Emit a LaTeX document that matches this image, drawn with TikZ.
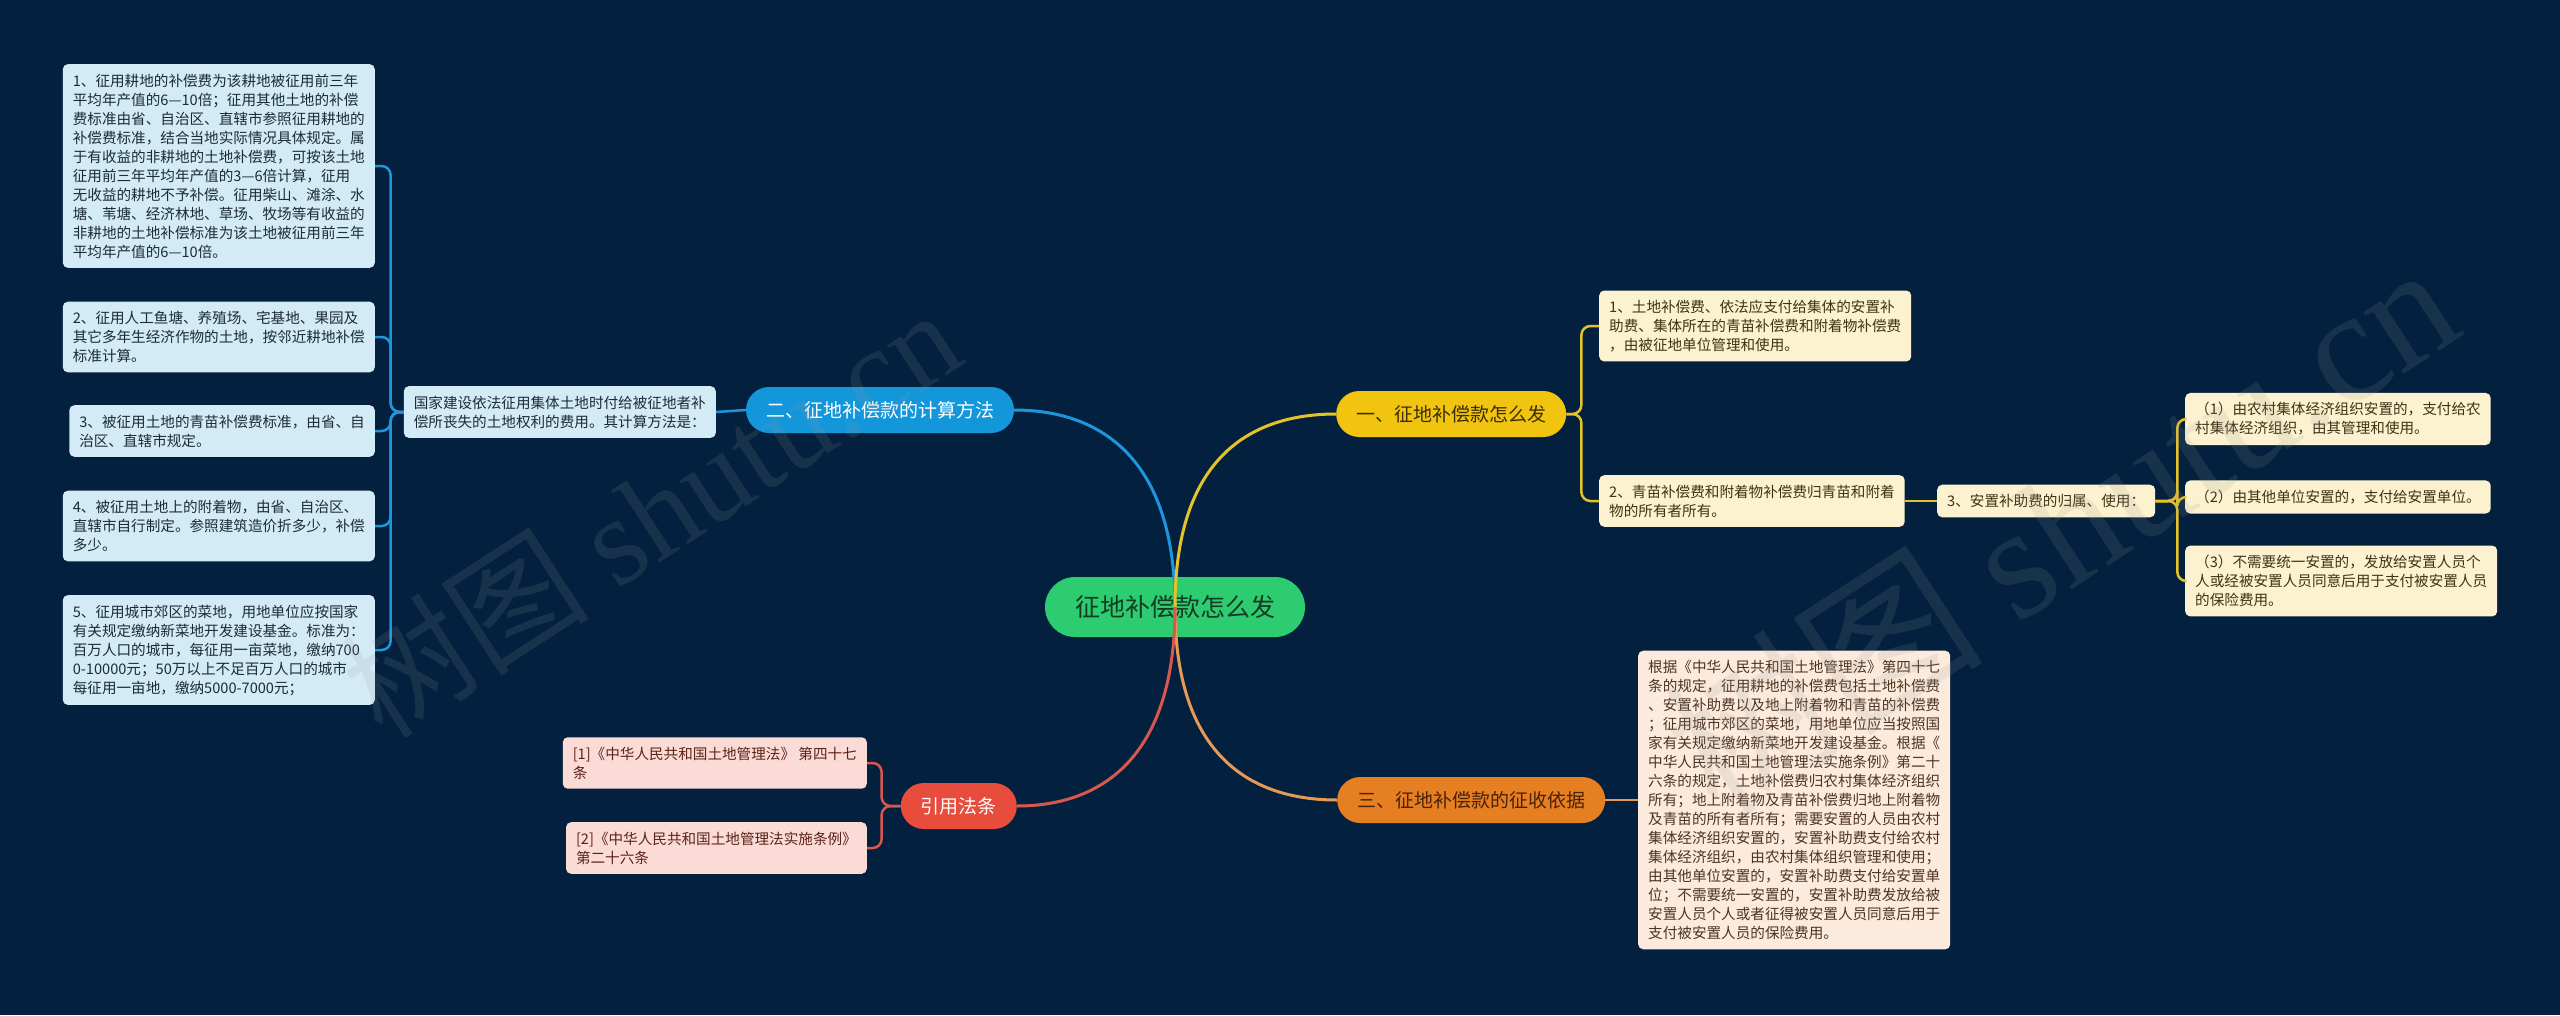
\documentclass[tikz,border=0pt]{standalone}
\usepackage{fontspec}
\setmainfont{Noto Sans CJK SC}
\newfontfamily\wmserif{Liberation Serif}
\usepackage{tikz}
\usetikzlibrary{positioning}

\definecolor{bgnavy}{HTML}{03213F}
\definecolor{rootfill}{HTML}{2ECC71}
\definecolor{roottext}{HTML}{123D22}
\definecolor{bluefill}{HTML}{1396DA}
\definecolor{blueline}{HTML}{1E96DC}
\definecolor{blueleaf}{HTML}{D3EAF7}
\definecolor{bluetext}{HTML}{1C2B3A}
\definecolor{yelfill}{HTML}{F1C40F}
\definecolor{yelline}{HTML}{E6C229}
\definecolor{yelleaf}{HTML}{FCF2CF}
\definecolor{yeltext}{HTML}{3D3418}
\definecolor{yeltopic}{HTML}{3A2E05}
\definecolor{orgfill}{HTML}{E67E22}
\definecolor{orgline}{HTML}{E59A55}
\definecolor{orgleaf}{HTML}{FCEBDD}
\definecolor{orgtext}{HTML}{4E3320}
\definecolor{orgtopic}{HTML}{4A2206}
\definecolor{redfill}{HTML}{E74C3C}
\definecolor{redline}{HTML}{D9584E}
\definecolor{redleaf}{HTML}{FADBD6}
\definecolor{redtext}{HTML}{5C2218}

\begin{document}
\begin{tikzpicture}[x=1pt, y=-1pt,
  root/.style ={fill=rootfill, text=roottext, rounded corners=30pt, minimum height=60pt,
                inner xsep=30pt, inner ysep=0pt, font=\fontsize{25}{30}\selectfont},
  topic/.style={rounded corners=23pt, minimum height=46pt, inner xsep=20pt, inner ysep=0pt,
                font=\fontsize{19}{23}\selectfont},
  leaf/.style ={rounded corners=5pt, align=left, inner xsep=10pt, inner ysep=9.5pt,
                font=\fontsize{14.6}{19}\selectfont},
  bleaf/.style={leaf, fill=blueleaf, text=bluetext},
  yleaf/.style={leaf, fill=yelleaf, text=yeltext},
  oleaf/.style={leaf, fill=orgleaf, text=orgtext},
  rleaf/.style={leaf, fill=redleaf, text=redtext},
  trunk/.style={line width=3pt},
  bline/.style={draw=blueline, line width=2.5pt, rounded corners=9pt},
  yline/.style={draw=yelline, line width=2.5pt, rounded corners=9pt},
  oline/.style={draw=orgline, line width=2.5pt, rounded corners=9pt},
  rline/.style={draw=redline, line width=2.5pt, rounded corners=9pt},
  wm/.style   ={text=gray!80, opacity=0.15, font=\fontsize{125}{130}\selectfont}]

%% ── Canvas ───────────────────────────────────────────────────────
\fill[bgnavy] (0,0) rectangle (2560,1015);
\useasboundingbox (0,0) rectangle (2560,1015);

%% ── Root ─────────────────────────────────────────────────────────
\node[root] (root) at (1175,607) {征地补偿款怎么发};

%% ── Main topics ──────────────────────────────────────────────────
\node[topic, fill=bluefill, text=white]     (calc)  at (880,410)              {二、征地补偿款的计算方法};
\node[topic, fill=yelfill, text=yeltopic, anchor=west] (pay)   at (1336,414) {一、征地补偿款怎么发};
\node[topic, fill=orgfill, text=orgtopic, anchor=west] (basis) at (1337,800) {三、征地补偿款的征收依据};
\node[topic, fill=redfill, text=white, anchor=east]    (law)   at (1017,806) {引用法条};

%% ── Trunk curves from the root ───────────────────────────────────
\draw[trunk, draw=blueline] (root.center) .. controls +(0,-150) and +(85,0)  .. (calc.east);
\draw[trunk, draw=yelline]  (root.center) .. controls +(0,-150) and +(-85,0) .. (pay.west);
\draw[trunk, draw=orgline]  (root.center) .. controls +(0,150)  and +(-85,0) .. (basis.west);
\draw[trunk, draw=redline]  (root.center) .. controls +(0,150)  and +(85,0)  .. (law.east);

%% ── Branch 二: calculation rules (left) ──────────────────────────
\node[bleaf, anchor=east] (calcdesc) at (716,412)
  {国家建设依法征用集体土地时付给被征地者补\\偿所丧失的土地权利的费用。其计算方法是：};
\node[bleaf, anchor=east] (rule1) at (375,166)
  {1、征用耕地的补偿费为该耕地被征用前三年\\平均年产值的6—10倍；征用其他土地的补偿\\费标准由省、自治区、直辖市参照征用耕地的\\补偿费标准，结合当地实际情况具体规定。属\\于有收益的非耕地的土地补偿费，可按该土地\\征用前三年平均年产值的3—6倍计算，征用\\无收益的耕地不予补偿。征用柴山、滩涂、水\\塘、苇塘、经济林地、草场、牧场等有收益的\\非耕地的土地补偿标准为该土地被征用前三年\\平均年产值的6—10倍。};
\node[bleaf, anchor=east] (rule2) at (375,337)
  {2、征用人工鱼塘、养殖场、宅基地、果园及\\其它多年生经济作物的土地，按邻近耕地补偿\\标准计算。};
\node[bleaf, anchor=east] (rule3) at (375,431)
  {3、被征用土地的青苗补偿费标准，由省、自\\治区、直辖市规定。};
\node[bleaf, anchor=east] (rule4) at (375,526)
  {4、被征用土地上的附着物，由省、自治区、\\直辖市自行制定。参照建筑造价折多少，补偿\\多少。};
\node[bleaf, anchor=east] (rule5) at (375,650)
  {5、征用城市郊区的菜地，用地单位应按国家\\有关规定缴纳新菜地开发建设基金。标准为：\\百万人口的城市，每征用一亩菜地，缴纳700\\0-10000元；50万以上不足百万人口的城市\\每征用一亩地，缴纳5000-7000元；};

\draw[bline] (calc.west) -- (calcdesc.east);
\draw[bline] (calcdesc.west) -- ++(-13,0) |- (rule1.east);
\draw[bline] (calcdesc.west) -- ++(-13,0) |- (rule2.east);
\draw[bline] (calcdesc.west) -- ++(-13,0) |- (rule3.east);
\draw[bline] (calcdesc.west) -- ++(-13,0) |- (rule4.east);
\draw[bline] (calcdesc.west) -- ++(-13,0) |- (rule5.east);

%% ── Branch 一: how it is paid (upper right) ──────────────────────
\node[yleaf, anchor=west] (pay1) at (1599,326)
  {1、土地补偿费、依法应支付给集体的安置补\\助费、集体所在的青苗补偿费和附着物补偿费\\，由被征地单位管理和使用。};
\node[yleaf, anchor=west] (pay2) at (1599,501)
  {2、青苗补偿费和附着物补偿费归青苗和附着\\物的所有者所有。};
\node[yleaf, anchor=west] (pay3) at (1937,501) {3、安置补助费的归属、使用：};
\node[yleaf, anchor=west] (use1) at (2185,419)
  {（1）由农村集体经济组织安置的，支付给农\\村集体经济组织，由其管理和使用。};
\node[yleaf, anchor=west] (use2) at (2185,497) {（2）由其他单位安置的，支付给安置单位。};
\node[yleaf, anchor=west] (use3) at (2185,581)
  {（3）不需要统一安置的，发放给安置人员个\\人或经被安置人员同意后用于支付被安置人员\\的保险费用。};

\draw[yline] (pay.east) -- ++(15,0) |- (pay1.west);
\draw[yline] (pay.east) -- ++(15,0) |- (pay2.west);
\draw[yline] (pay2.east) -- (pay3.west);
\draw[yline] (pay3.east) -- ++(22,0) |- (use1.west);
\draw[yline] (pay3.east) -- ++(22,0) |- (use2.west);
\draw[yline] (pay3.east) -- ++(22,0) |- (use3.west);

%% ── Branch 三: legal basis (lower right) ─────────────────────────
\node[oleaf, anchor=west] (basistext) at (1638,800)
  {根据《中华人民共和国土地管理法》第四十七\\条的规定，征用耕地的补偿费包括土地补偿费\\、安置补助费以及地上附着物和青苗的补偿费\\；征用城市郊区的菜地，用地单位应当按照国\\家有关规定缴纳新菜地开发建设基金。根据《\\中华人民共和国土地管理法实施条例》第二十\\六条的规定，土地补偿费归农村集体经济组织\\所有；地上附着物及青苗补偿费归地上附着物\\及青苗的所有者所有；需要安置的人员由农村\\集体经济组织安置的，安置补助费支付给农村\\集体经济组织，由农村集体组织管理和使用；\\由其他单位安置的，安置补助费支付给安置单\\位；不需要统一安置的，安置补助费发放给被\\安置人员个人或者征得被安置人员同意后用于\\支付被安置人员的保险费用。};
\draw[oline] (basis.east) -- (basistext.west);

%% ── Branch: cited articles (lower left) ──────────────────────────
\node[rleaf, anchor=east] (law1) at (867,763) {[1]《中华人民共和国土地管理法》 第四十七\\条};
\node[rleaf, anchor=east] (law2) at (867,848) {[2]《中华人民共和国土地管理法实施条例》\\第二十六条};

\draw[rline] (law.west) -- ++(-19,0) |- (law1.east);
\draw[rline] (law.west) -- ++(-19,0) |- (law2.east);

%% ── Watermarks ───────────────────────────────────────────────────
\node[wm, rotate=33] (wmleft)  at (650,512)  {树图 {\wmserif shutu.cn}};
\node[wm, rotate=33, font=\fontsize{160}{165}\selectfont] (wmright) at (2060,525) {树图 {\wmserif shutu.cn}};
\end{tikzpicture}
\end{document}
